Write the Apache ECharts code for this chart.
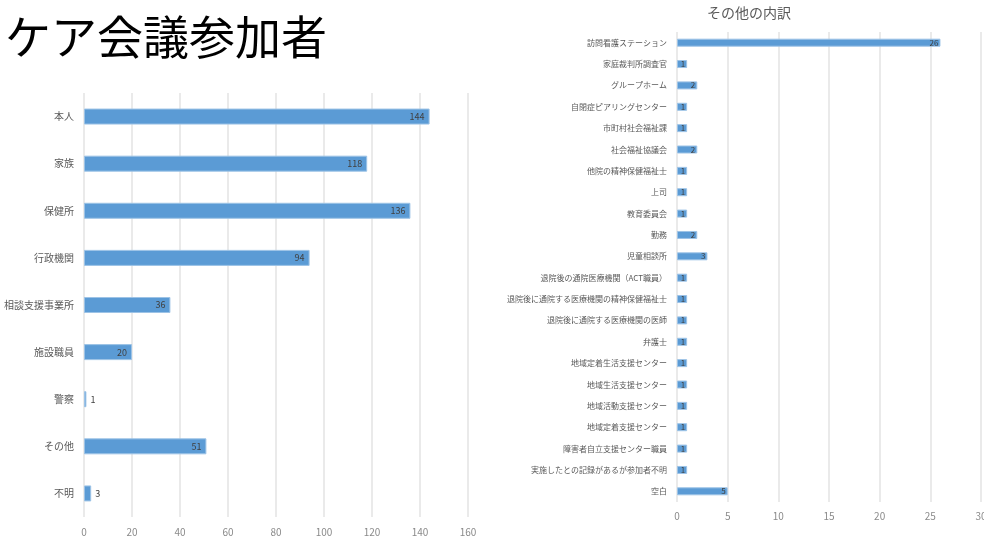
<!DOCTYPE html>
<html>
<head>
<meta charset="utf-8">
<script src="https://cdn.jsdelivr.net/npm/echarts@6/dist/echarts.min.js"></script>
<style>
html,body{margin:0;padding:0;background:#fff;}
#main{width:984px;height:542px;}
</style>
</head>
<body>
<div id="main"></div>
<script>
// ケア会議参加者
var leftCats = ['本人', '家族', '保健所', '行政機関', '相談支援事業所', '施設職員', '警察', 'その他', '不明'];
var leftVals = [144, 118, 136, 94, 36, 20, 1, 51, 3];
var leftTicks = [0, 20, 40, 60, 80, 100, 120, 140, 160];

// その他の内訳
var rightCats = [
  '訪問看護ステーション', '家庭裁判所調査官', 'グループホーム', '自閉症ピアリングセンター',
  '市町村社会福祉課', '社会福祉協議会', '他院の精神保健福祉士', '上司', '教育委員会', '勤務',
  '児童相談所', '退院後の通院医療機関（ACT職員）', '退院後に通院する医療機関の精神保健福祉士',
  '退院後に通院する医療機関の医師', '弁護士', '地域定着生活支援センター', '地域生活支援センター',
  '地域活動支援センター', '地域定着支援センター', '障害者自立支援センター職員',
  '実施したとの記録があるが参加者不明', '空白'
];
var rightVals = [26, 1, 2, 1, 1, 2, 1, 1, 1, 2, 3, 1, 1, 1, 1, 1, 1, 1, 1, 1, 1, 5];
var rightTicks = [0, 5, 10, 15, 20, 25, 30];

var myChart = echarts.init(document.getElementById('main'));
var font = '"Noto Sans CJK JP", "Noto Sans", sans-serif';

var leftData = leftVals.map(function (v) {
    var item = { value: v };
    if (v < 5) {
        item.label = { position: 'right', distance: 4 };
    }
    return item;
});

var option = {
    backgroundColor: '#fff',
    textStyle: { fontFamily: font },
    title: [
        {
            text: 'ケア会議参加者',
            left: 0,
            top: 9,
            textStyle: { fontSize: 46, fontWeight: 'normal', color: '#000', fontFamily: font }
        },
        {
            text: 'その他の内訳',
            left: 744,
            textAlign: 'center',
            top: 1,
            textStyle: { fontSize: 14, fontWeight: 'normal', color: '#595959', fontFamily: font }
        }
    ],
    grid: [
        { left: 84, top: 93, width: 384, height: 424, outerBoundsMode: 'none', containLabel: false },
        { left: 677, top: 32, width: 304, height: 470, outerBoundsMode: 'none', containLabel: false }
    ],
    xAxis: [
        {
            gridIndex: 0,
            type: 'value',
            min: leftTicks[0],
            max: leftTicks[leftTicks.length - 1],
            interval: 20,
            axisLine: { show: false },
            axisTick: { show: false },
            axisLabel: { color: '#8a8a8a', fontSize: 10, margin: 10 },
            splitLine: { lineStyle: { color: '#e3e3e3', width: 1.5 } }
        },
        {
            gridIndex: 1,
            type: 'value',
            min: rightTicks[0],
            max: rightTicks[rightTicks.length - 1],
            interval: 5,
            axisLine: { show: false },
            axisTick: { show: false },
            axisLabel: { color: '#8a8a8a', fontSize: 10, margin: 9 },
            splitLine: { lineStyle: { color: '#e3e3e3', width: 1.5 } }
        }
    ],
    yAxis: [
        {
            gridIndex: 0,
            type: 'category',
            inverse: true,
            data: leftCats,
            axisLine: { show: false },
            axisTick: { show: false },
            axisLabel: { color: '#595959', fontSize: 10, margin: 10 }
        },
        {
            gridIndex: 1,
            type: 'category',
            inverse: true,
            data: rightCats,
            axisLine: { show: false },
            axisTick: { show: false },
            axisLabel: { color: '#595959', fontSize: 8, margin: 10 }
        }
    ],
    series: [
        {
            type: 'bar',
            xAxisIndex: 0,
            yAxisIndex: 0,
            data: leftData,
            barWidth: 16,
            itemStyle: { color: '#5b9bd5', borderColor: '#9dc3e6', borderWidth: 1 },
            label: {
                show: true,
                position: 'insideRight',
                color: '#404040',
                fontSize: 9,
                distance: 5
            }
        },
        {
            type: 'bar',
            xAxisIndex: 1,
            yAxisIndex: 1,
            data: rightVals,
            barWidth: 8,
            itemStyle: { color: '#5b9bd5', borderColor: '#9dc3e6', borderWidth: 1 },
            label: {
                show: true,
                position: 'insideRight',
                color: '#404040',
                fontSize: 8,
                distance: 2
            }
        }
    ]
};
myChart.setOption(option);
</script>
</body>
</html>
